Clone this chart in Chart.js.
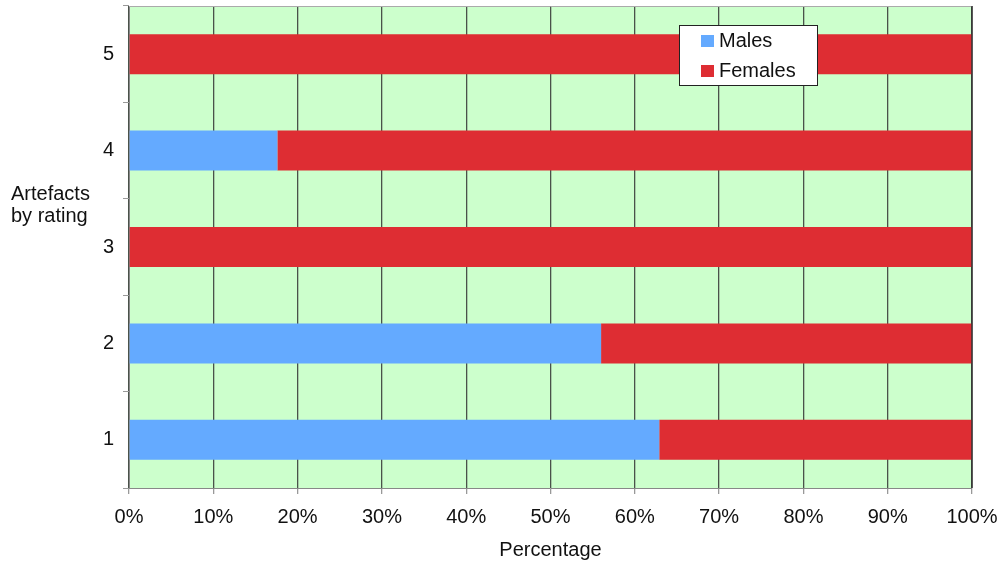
<!DOCTYPE html>
<html>
<head>
<meta charset="utf-8">
<style>
  html, body { margin: 0; padding: 0; background: #fff; }
  #wrap { width: 1001px; height: 562px; position: relative; }
</style>
</head>
<body>
<div id="wrap">
  <canvas id="ratings" width="1001" height="562"></canvas>
</div>

<script src="https://cdn.jsdelivr.net/npm/chart.js"></script>

<script>
  const ratings = ['1', '2', '3', '4', '5'];
  const males = [62.9, 56.0, 0, 17.6, 0];
  const females = [37.1, 44.0, 100, 82.4, 100];
  const seriesNames = ['Males', 'Females'];
  const seriesColors = ['#64AAFF', '#DE2D33'];
  const yTitle = ['Artefacts', 'by rating'];
  const xTitle = 'Percentage';

  const FONT = '"Liberation Sans", Arial, sans-serif';

  // green plot background + borders
  const plotBg = {
    id: 'plotBg',
    beforeDraw(chart) {
      const { ctx, chartArea: a } = chart;
      ctx.save();
      ctx.fillStyle = '#CCFFCC';
      ctx.fillRect(a.left, a.top, a.right - a.left, a.bottom - a.top);
      ctx.restore();
    },
    afterDatasetsDraw(chart) {
      const { ctx, chartArea: a } = chart;
      ctx.save();
      ctx.strokeStyle = '#aaaaaa';
      ctx.lineWidth = 1;
      ctx.beginPath();
      ctx.moveTo(a.left, a.top + 0.5);
      ctx.lineTo(a.right, a.top + 0.5);
      ctx.stroke();
      ctx.strokeStyle = '#333333';
      ctx.lineWidth = 1.5;
      ctx.beginPath();
      ctx.moveTo(a.right, a.top);
      ctx.lineTo(a.right, a.bottom);
      ctx.stroke();
      ctx.restore();
    }
  };

  // legend box drawn inside the plot, plus horizontal y title
  const boxLegend = {
    id: 'boxLegend',
    afterDraw(chart) {
      const { ctx } = chart;
      const x = 679.5, y = 25.5, w = 138, h = 60;
      ctx.save();
      ctx.fillStyle = '#ffffff';
      ctx.fillRect(x, y, w, h);
      ctx.strokeStyle = '#222222';
      ctx.lineWidth = 1;
      ctx.strokeRect(x, y, w, h);
      ctx.font = '20px ' + FONT;
      ctx.textBaseline = 'alphabetic';
      chart.data.datasets.forEach((ds, i) => {
        const base = 47 + i * 30;
        ctx.fillStyle = ds.backgroundColor;
        ctx.fillRect(701, base - 12, 13, 12);
        ctx.fillStyle = '#111111';
        ctx.fillText(ds.label, 719, base);
      });
      ctx.fillStyle = '#111111';
      ctx.textAlign = 'left';
      yTitle.forEach((t, i) => ctx.fillText(t, 11, 200 + i * 22));
      ctx.restore();
    }
  };

  const ctx = document.getElementById('ratings');

  new Chart(ctx, {
    type: 'bar',
    data: {
      labels: ratings,
      datasets: [
        { label: seriesNames[0], data: males, backgroundColor: seriesColors[0] },
        { label: seriesNames[1], data: females, backgroundColor: seriesColors[1] }
      ]
    },
    options: {
      indexAxis: 'y',
      responsive: false,
      animation: false,
      devicePixelRatio: 1,
      layout: { padding: { left: 0, right: 29, top: 6, bottom: 0 } },
      datasets: {
        bar: { categoryPercentage: 1, barPercentage: 0.415, borderWidth: 0 }
      },
      plugins: {
        legend: { display: false },
        tooltip: { enabled: false }
      },
      scales: {
        x: {
          stacked: true,
          min: 0,
          max: 100,
          afterFit(s) { s.height = 74; s.paddingLeft = 0; s.paddingRight = 0; },
          border: { display: true, color: '#888888', width: 1 },
          grid: { color: '#4a524a', lineWidth: 1.3, tickLength: 6, drawTicks: true, tickColor: '#999999' },
          ticks: {
            stepSize: 10,
            color: '#111111',
            font: { family: FONT, size: 20 },
            padding: 11,
            maxRotation: 0,
            callback: v => v + '%'
          },
          title: {
            display: true,
            text: xTitle,
            color: '#111111',
            font: { family: FONT, size: 20 },
            padding: { top: 4, bottom: 0 }
          }
        },
        y: {
          stacked: true,
          reverse: true,
          afterFit(s) { s.width = 129; s.paddingTop = 0; s.paddingBottom = 0; },
          border: { display: true, color: '#888888', width: 1 },
          grid: { offset: true, drawOnChartArea: false, tickLength: 6, tickColor: '#999999' },
          ticks: {
            color: '#111111',
            font: { family: FONT, size: 20 },
            padding: 9
          }
        }
      }
    },
    plugins: [plotBg, boxLegend]
  });
</script>
</body>
</html>
